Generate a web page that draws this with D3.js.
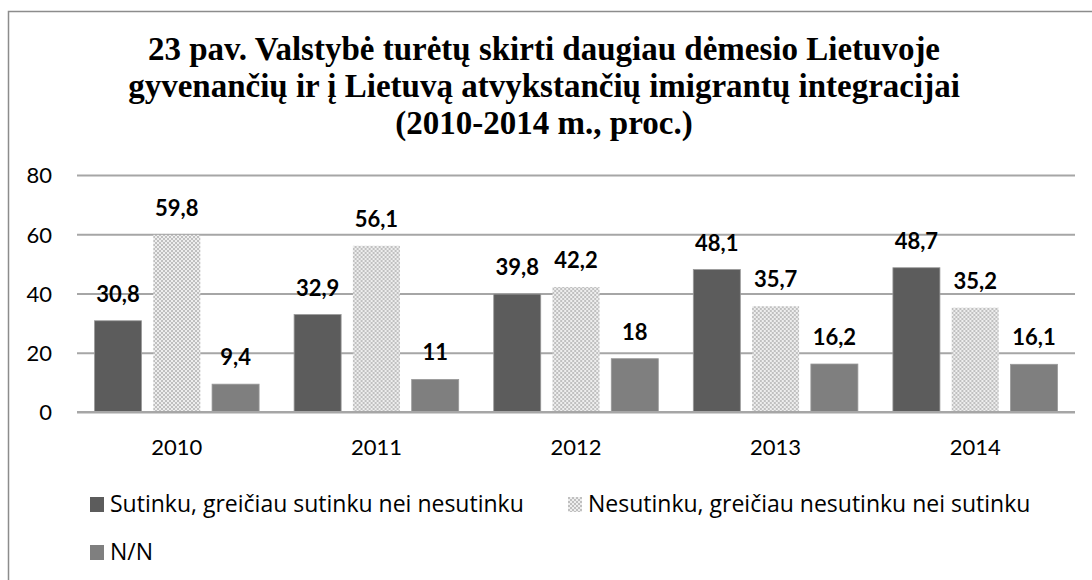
<!DOCTYPE html>
<html>
<head>
<meta charset="utf-8">
<script src="https://cdn.jsdelivr.net/npm/d3@7"></script>
<style>
  body { margin: 0; background: #fff; }
  svg { display: block; }
</style>
</head>
<body id="body">
<svg id="chart" width="1092" height="580"></svg>
<script>
// chart data
var years = ["2010", "2011", "2012", "2013", "2014"];
var seriesNames = [
  "Sutinku, greičiau sutinku nei nesutinku",
  "Nesutinku, greičiau nesutinku nei sutinku",
  "N/N"
];
var agree = [30.8, 32.9, 39.8, 48.1, 48.7];
var disagree = [59.8, 56.1, 42.2, 35.7, 35.2];
var dontKnow = [9.4, 11, 18, 16.2, 16.1];
var yTicks = [0, 20, 40, 60, 80];
var titleLines = [
  "23 pav. Valstybė turėtų skirti daugiau dėmesio Lietuvoje",
  "gyvenančių ir į Lietuvą atvykstančių imigrantų integracijai",
  "(2010-2014 m., proc.)"
];

var svg = d3.select("#chart");
var width = 1092, height = 580;

// plot area
var plotLeft = 77, plotRight = 1075, plotTop = 175, plotBottom = 412;

var series = [agree, disagree, dontKnow];

// pattern for the middle series
var defs = svg.append("defs");
var pat = defs.append("pattern")
  .attr("id", "checks")
  .attr("patternUnits", "userSpaceOnUse")
  .attr("width", 4).attr("height", 4);
pat.append("rect").attr("width", 4).attr("height", 4).attr("fill", "#eeeeee");
pat.append("rect").attr("width", 2).attr("height", 2).attr("fill", "#c0c0c0");
pat.append("rect").attr("x", 2).attr("y", 2).attr("width", 2).attr("height", 2).attr("fill", "#c0c0c0");

var fills = ["#5c5c5c", "url(#checks)", "#7f7f7f"];

// outer frame (only top and left edges visible)
svg.append("path")
  .attr("d", "M8.5," + height + "V11.5H" + width)
  .attr("fill", "none")
  .attr("stroke", "#8c8c8c")
  .attr("stroke-width", 1.5);

// title
svg.append("g").selectAll("text")
  .data(titleLines)
  .enter().append("text")
  .attr("x", 544)
  .attr("y", function(d, i) { return 60 + i * 37; })
  .attr("text-anchor", "middle")
  .style("font-family", "'Liberation Serif', 'Times New Roman', serif")
  .style("font-weight", "bold")
  .style("font-size", "33px")
  .attr("fill", "#000")
  .text(function(d) { return d; });

// scales
var x0 = d3.scaleBand().domain(years).range([plotLeft, plotRight]);
var inner = 17.5;
var x1 = d3.scaleBand().domain([0, 1, 2])
  .range([inner, x0.bandwidth() - inner])
  .paddingInner(0.2);
var y = d3.scaleLinear().domain([0, 80]).range([plotBottom, plotTop]);

// gridlines
var yAxis = d3.axisLeft(y).tickValues(yTicks).tickSize(-(plotRight - plotLeft)).tickFormat(d3.format("d"));
var gy = svg.append("g")
  .attr("transform", "translate(" + plotLeft + ",0)")
  .call(yAxis);
gy.select(".domain").remove();
gy.selectAll(".tick line").attr("stroke", "#a6a6a6").attr("stroke-width", 2);
gy.selectAll(".tick text")
  .attr("x", -25)
  .attr("dy", "0.36em")
  .style("font-family", "Lato, 'Open Sans', sans-serif")
  .style("font-size", "22px")
  .attr("fill", "#000");

// bars
var groups = svg.append("g").selectAll("g")
  .data(years)
  .enter().append("g")
  .attr("transform", function(d) { return "translate(" + x0(d) + ",0)"; });

var barData = function(d, i) {
  return series.map(function(s, k) { return { k: k, v: s[i] }; });
};

groups.selectAll("rect")
  .data(barData)
  .enter().append("rect")
  .attr("x", function(d) { return x1(d.k); })
  .attr("y", function(d) { return y(d.v); })
  .attr("width", x1.bandwidth())
  .attr("height", function(d) { return y(0) - y(d.v); })
  .attr("fill", function(d) { return fills[d.k]; })
  .attr("stroke", function(d) { return d.k == 1 ? "none" : "#9a9a9a"; })
  .attr("stroke-width", 0.8);

// data labels
groups.selectAll("text")
  .data(barData)
  .enter().append("text")
  .attr("x", function(d) { return x1(d.k) + x1.bandwidth() / 2; })
  .attr("y", function(d) { return y(d.v) - 19; })
  .attr("text-anchor", "middle")
  .style("font-family", "Lato, 'Open Sans', sans-serif")
  .style("font-weight", "bold")
  .style("font-size", "22px")
  .attr("fill", "#000")
  .text(function(d) { return String(d.v).replace(".", ","); });

// x axis base line
svg.append("line")
  .attr("x1", plotLeft).attr("x2", plotRight)
  .attr("y1", y(0)).attr("y2", y(0))
  .attr("stroke", "#a6a6a6").attr("stroke-width", 2);

// x labels
var xAxis = d3.axisBottom(x0).tickSize(0).tickPadding(0);
var gx = svg.append("g")
  .attr("transform", "translate(0," + plotBottom + ")")
  .call(xAxis);
gx.select(".domain").remove();
gx.selectAll(".tick text")
  .attr("y", 43)
  .attr("dy", 0)
  .style("font-family", "Lato, 'Open Sans', sans-serif")
  .style("font-size", "22px")
  .attr("fill", "#000");

// legend
var legend = svg.append("g");
var legPos = [[90, 497], [568, 497], [90, 545]];
seriesNames.forEach(function(name, k) {
  var g = legend.append("g").attr("transform", "translate(" + legPos[k][0] + "," + legPos[k][1] + ")");
  g.append("rect")
    .attr("width", 14).attr("height", 15)
    .attr("fill", fills[k]);
  g.append("text")
    .attr("x", 20).attr("y", 15)
    .style("font-family", "'Open Sans', Lato, sans-serif")
    .style("font-size", "23px")
    .attr("fill", "#000")
    .text(name);
});
</script>
</body>
</html>
